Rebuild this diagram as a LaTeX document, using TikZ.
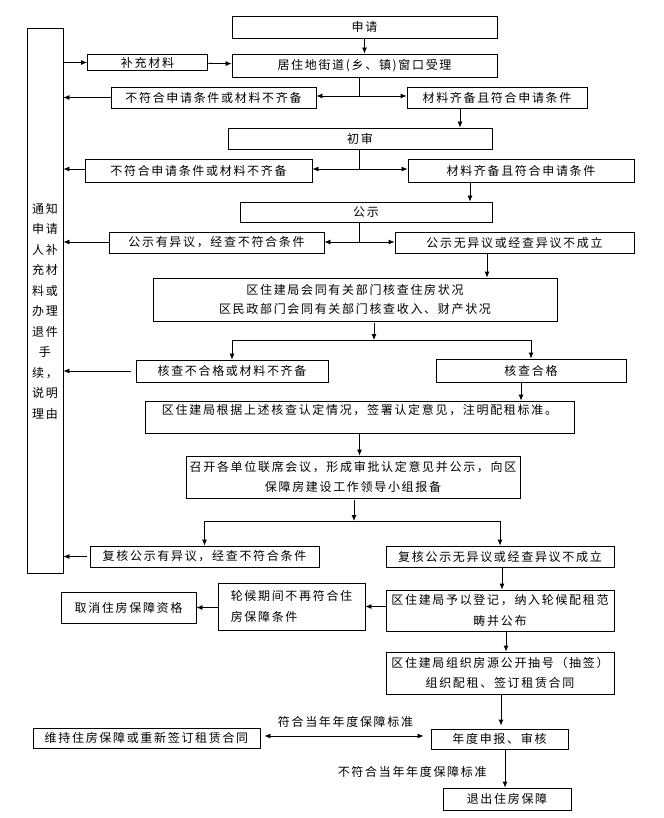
\documentclass[tikz,border=0pt]{standalone}
\usepackage{fontspec}
\newfontfamily\cjk[LetterSpace=14]{Noto Sans CJK SC}
\usetikzlibrary{arrows.meta}

\begin{document}
\begin{tikzpicture}[x=1pt,y=-1pt,
	box/.style={draw,line width=0.8pt,inner sep=0pt,align=center,font={\cjk\fontsize{12}{20.5}\selectfont}},
	tag/.style={inner sep=0pt,font={\cjk\fontsize{12}{20.5}\selectfont}},
	link/.style={line width=0.8pt,-{Latex[length=6pt,width=5pt]}},
	both/.style={line width=0.8pt,{Latex[length=6pt,width=5pt]}-{Latex[length=6pt,width=5pt]}},
	wire/.style={line width=0.8pt}]
	\useasboundingbox (0,0) rectangle (663,818);
	\node[box,minimum width=36pt,minimum height=545pt,text height=236pt] (tongzhi) at (45,300.5) {通知\\申请\\人补\\充材\\料或\\办理\\退件\\手\\续，\\说明\\理由};
	\node[box,minimum width=265pt,minimum height=22pt] (shenqing) at (364.5,27) {申请};
	\node[box,minimum width=265pt,minimum height=23pt] (shouli) at (364.5,65.5) {居住地街道(乡、镇)窗口受理};
	\node[box,minimum width=120pt,minimum height=16pt] (buchong) at (147.5,62.5) {补充材料};
	\node[box,minimum width=205pt,minimum height=21pt] (bufu1) at (213.5,97.5) {不符合申请条件或材料不齐备};
	\node[box,minimum width=180pt,minimum height=21pt] (qibei1) at (497,97.5) {材料齐备且符合申请条件};
	\node[box,minimum width=264pt,minimum height=21pt] (chushen) at (360,138.5) {初审};
	\node[box,minimum width=227pt,minimum height=23pt] (bufu2) at (198.5,170.5) {不符合申请条件或材料不齐备};
	\node[box,minimum width=226pt,minimum height=23pt] (qibei2) at (521,170.5) {材料齐备且符合申请条件};
	\node[box,minimum width=252pt,minimum height=20pt] (gongshi) at (366,212) {公示};
	\node[box,minimum width=215pt,minimum height=21pt] (yiyi) at (216.5,242.5) {公示有异议，经查不符合条件};
	\node[box,minimum width=239pt,minimum height=21pt] (wuyiyi) at (514.5,242.5) {公示无异议或经查异议不成立};
	\node[box,minimum width=404pt,minimum height=43pt,font={\cjk\fontsize{12}{18.5}\selectfont}] (hecha) at (355,299.5) {区住建局会同有关部门核查住房状况\\区民政部门会同有关部门核查收入、财产状况};
	\node[box,minimum width=192pt,minimum height=22pt] (buhege) at (232,371) {核查不合格或材料不齐备};
	\node[box,minimum width=190pt,minimum height=23pt] (hege) at (531,370.5) {核查合格};
	\node[box,minimum width=429pt,minimum height=32pt,text depth=15pt] (rending) at (359.5,417) {区住建局根据上述核查认定情况，签署认定意见，注明配租标准。};
	\node[box,minimum width=334pt,minimum height=42pt] (lianxi) at (353,477) {召开各单位联席会议，形成审批认定意见并公示，向区\\保障房建设工作领导小组报备};
	\node[box,minimum width=229pt,minimum height=21pt] (fuhe1) at (204.5,556.5) {复核公示有异议，经查不符合条件};
	\node[box,minimum width=228pt,minimum height=21pt] (fuhe2) at (500,556.5) {复核公示无异议或经查异议不成立};
	\node[box,minimum width=228pt,minimum height=41pt] (dengji) at (500,610.5) {区住建局予以登记，纳入轮候配租范\\畴并公布};
	\node[box,minimum width=147pt,minimum height=47pt,align=left] (lunhou) at (291.5,606.5) {轮候期间不再符合住\\房保障条件};
	\node[box,minimum width=135pt,minimum height=31pt] (quxiao) at (128.5,607.5) {取消住房保障资格};
	\node[box,minimum width=228pt,minimum height=42pt] (chouhao) at (500,673) {区住建局组织房源公开抽号（抽签）\\组织配租、签订租赁合同};
	\node[box,minimum width=137pt,minimum height=20pt] (niandu) at (499.5,739) {年度申报、审核};
	\node[box,minimum width=227pt,minimum height=20pt] (weichi) at (146.5,738) {维持住房保障或重新签订租赁合同};
	\node[box,minimum width=128pt,minimum height=22pt] (tuichu) at (507,799) {退出住房保障};
	\coordinate (f1) at (359,96);
	\coordinate (f2) at (359,169);
	\coordinate (f3) at (359,242);
	\coordinate (f4) at (374,340);
	\coordinate (f5) at (354,521);
	\draw[link] (shenqing) -- (shouli);
	\draw[link] (tongzhi.east |- buchong) -- (buchong);
	\draw[link] (buchong) -- (shouli);
	\draw[wire] (f1 |- shouli.south) -- (f1);
	\draw[link] (f1) -- (bufu1.east |- f1);
	\draw[link] (f1) -- (qibei1.west |- f1);
	\draw[link] (bufu1) -- (tongzhi.east |- bufu1);
	\draw[link] ([xshift=-37pt]qibei1.south) -- ([xshift=-37pt]qibei1.south |- chushen.north);
	\draw[wire] (f2 |- chushen.south) -- (f2);
	\draw[link] (f2) -- (bufu2.east |- f2);
	\draw[link] (f2) -- (qibei2.west |- f2);
	\draw[link] (bufu2.west |- f2) -- (tongzhi.east |- f2);
	\draw[link] ([xshift=-51pt]qibei2.south) -- ([xshift=-51pt]qibei2.south |- gongshi.north);
	\draw[wire] (f3 |- gongshi.south) -- (f3);
	\draw[link] (f3) -- (yiyi.east |- f3);
	\draw[link] (f3) -- (wuyiyi.west |- f3);
	\draw[link] (yiyi.west |- f3) -- (tongzhi.east |- f3);
	\draw[link] ([xshift=-27.5pt]wuyiyi.south) -- ([xshift=-27.5pt]wuyiyi.south |- hecha.north);
	\draw[link] ([yshift=-2pt]hecha.south -| f4) -- (f4);
	\draw[wire] (buhege.north |- f4) -- (hege.north |- f4);
	\draw[link] (buhege.north |- f4) -- (buhege.north);
	\draw[link] (hege.north |- f4) -- (hege.north);
	\draw[link] ([xshift=-5pt]buhege.west) -- (tongzhi.east |- buhege.west);
	\draw[link] ([xshift=-10pt]hege.south) -- ([xshift=-10pt]hege.south |- rending.north);
	\draw[link] (rending.south) -- (rending.south |- lianxi.north);
	\draw[link] ([yshift=-2pt]lianxi.south -| f5) -- (f5);
	\draw[wire] (fuhe1.north |- f5) -- (fuhe2.north |- f5);
	\draw[link] (fuhe1.north |- f5) -- (fuhe1.north);
	\draw[link] (fuhe2.north |- f5) -- (fuhe2.north);
	\draw[link] ([xshift=-3pt]fuhe1.west) -- (tongzhi.east |- fuhe1.west);
	\draw[link] ([xshift=2pt]fuhe2.south) -- ([xshift=2pt]fuhe2.south |- dengji.north);
	\draw[link] (dengji.west |- lunhou.east) -- (lunhou.east);
	\draw[link] (lunhou.west |- quxiao.east) -- (quxiao.east);
	\draw[link] ([xshift=6pt]dengji.south) -- ([xshift=6pt]dengji.south |- chouhao.north);
	\draw[link,shorten >=3pt] ([xshift=1pt]chouhao.south) -- ([xshift=1pt]chouhao.south |- niandu.north);
	\draw[both,shorten <=4pt,shorten >=7pt] ([yshift=2pt]weichi.east) -- ([yshift=2pt]weichi.east -| niandu.west) node[midway,above=8pt,tag] {符合当年年度保障标准};
	\draw[link] ([xshift=5.5pt]niandu.south) -- ([xshift=5.5pt]niandu.south |- tuichu.north) node[midway,left=18pt,yshift=-3.5pt,tag] {不符合当年年度保障标准};
\end{tikzpicture}
\end{document}
